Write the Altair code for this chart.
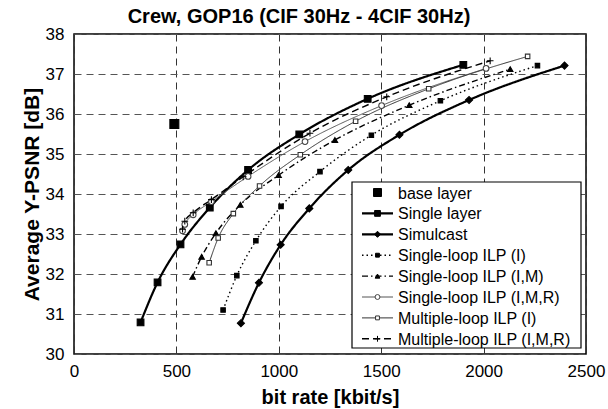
import altair as alt
import pandas as pd

# ---------------- data ----------------
names = [
    "base layer",
    "Single layer",
    "Simulcast",
    "Single-loop ILP (I)",
    "Single-loop ILP (I,M)",
    "Single-loop ILP (I,M,R)",
    "Multiple-loop ILP (I)",
    "Multiple-loop ILP (I,M,R)",
]

base_x = [490]
base_y = [35.75]
single_x = [325, 408, 520, 663, 850, 1100, 1434, 1901]
single_y = [30.79, 31.79, 32.74, 33.66, 34.60, 35.49, 36.38, 37.23]
simul_x = [815, 903, 1009, 1149, 1339, 1589, 1929, 2395]
simul_y = [30.77, 31.78, 32.73, 33.64, 34.60, 35.48, 36.35, 37.21]
sl_i_x = [728, 795, 888, 1011, 1201, 1452, 1789, 2263]
sl_i_y = [31.10, 31.96, 32.83, 33.69, 34.56, 35.47, 36.33, 37.21]
sl_im_x = [579, 623, 693, 812, 999, 1274, 1637, 2130]
sl_im_y = [31.93, 32.43, 33.02, 33.73, 34.47, 35.35, 36.22, 37.12]
sl_imr_x = [530, 541, 582, 671, 850, 1128, 1502, 2012]
sl_imr_y = [33.08, 33.24, 33.48, 33.81, 34.44, 35.31, 36.21, 37.14]
ml_i_x = [660, 704, 778, 906, 1105, 1375, 1732, 2215]
ml_i_y = [32.28, 32.90, 33.51, 34.20, 34.98, 35.82, 36.63, 37.44]
ml_imr_x = [530, 541, 582, 671, 826, 1152, 1527, 2032]
ml_imr_y = [33.12, 33.32, 33.53, 33.86, 34.43, 35.52, 36.43, 37.33]

xs = [base_x, single_x, simul_x, sl_i_x, sl_im_x, sl_imr_x, ml_i_x, ml_imr_x]
ys = [base_y, single_y, simul_y, sl_i_y, sl_im_y, sl_imr_y, ml_i_y, ml_imr_y]

x_ticks = [0, 500, 1000, 1500, 2000, 2500]
y_ticks = [30, 31, 32, 33, 34, 35, 36, 37, 38]

# ---------------- styles ----------------
CROSS = "M-1,0L1,0M0,-1L0,1"
styles = [
    dict(line=False, shape="square", size=80, fill="black", stroke="black", lw=0, dash=[], lc="black"),
    dict(line=True, shape="square", size=45, fill="black", stroke="black", lw=2.2, dash=[], lc="black"),
    dict(line=True, shape="diamond", size=50, fill="black", stroke="black", lw=2.2, dash=[], lc="black"),
    dict(line=True, shape="square", size=20, fill="black", stroke="black", lw=1.4, dash=[1.5, 3], lc="black"),
    dict(line=True, shape="triangle-up", size=30, fill="black", stroke="black", lw=1.4, dash=[6, 3, 1.5, 3], lc="black"),
    dict(line=True, shape="circle", size=32, fill="white", stroke="#444", lw=1.0, dash=[], lc="#555"),
    dict(line=True, shape="square", size=20, fill="white", stroke="#333", lw=1.0, dash=[], lc="#333"),
    dict(line=True, shape=CROSS, size=45, fill="none", stroke="black", lw=1.4, dash=[7, 4], lc="black"),
]

FONT = "Liberation Sans"
OX, OY = 74, 34  # plot origin on the page (padding)

xscale = alt.Scale(domain=[0, 2500], nice=False, zero=False)
yscale = alt.Scale(domain=[30, 38], nice=False, zero=False)

x_enc = alt.X(
    "x:Q", scale=xscale,
    axis=alt.Axis(values=x_ticks, title="bit rate [kbit/s]", format="d"),
)
y_enc = alt.Y(
    "y:Q", scale=yscale,
    axis=alt.Axis(values=y_ticks, title="Average Y-PSNR [dB]", format="d"),
)

layers = []
for name, sx, sy, st in zip(names, xs, ys, styles):
    df = pd.DataFrame({"x": sx, "y": sy, "series": name})
    if st["line"]:
        layers.append(
            alt.Chart(df).mark_line(
                color=st["lc"], strokeWidth=st["lw"], strokeDash=st["dash"] if st["dash"] else [1, 0],
                interpolate="monotone",
            ).encode(x=x_enc, y=y_enc, order="x:Q")
        )
for name, sx, sy, st in zip(names, xs, ys, styles):
    df = pd.DataFrame({"x": sx, "y": sy, "series": name})
    fill_kw = {"fill": st["fill"], "fillOpacity": 1} if st["fill"] != "none" else {"fillOpacity": 0}
    layers.append(
        alt.Chart(df).mark_point(
            shape=st["shape"], size=st["size"], stroke=st["stroke"], strokeWidth=1.1,
            opacity=1, **fill_kw,
        ).encode(x=x_enc, y=y_enc)
    )

# ---------------- legend (drawn inside the plot, lower right) ----------------
one = alt.Data(values=[{"a": 1}])
LX0, LX1, LY0, LY1 = 352 - OX, 581 - OX, 182 - OY, 348 - OY
layers.append(
    alt.Chart(one).mark_rect(fill="white", stroke="black", strokeWidth=1.2).encode(
        x=alt.value(LX0), x2=alt.value(LX1), y=alt.value(LY0), y2=alt.value(LY1)
    )
)
row0, step = 192.5 - OY, 20.9
for i, (name, st) in enumerate(zip(names, styles)):
    yy = row0 + i * step
    if st["line"]:
        layers.append(
            alt.Chart(one).mark_rule(
                color=st["lc"], strokeWidth=st["lw"], strokeDash=st["dash"] if st["dash"] else [1, 0],
            ).encode(x=alt.value(362 - OX), x2=alt.value(393 - OX), y=alt.value(yy))
        )
    fill_kw = {"fill": st["fill"], "fillOpacity": 1} if st["fill"] != "none" else {"fillOpacity": 0}
    layers.append(
        alt.Chart(one).mark_point(
            shape=st["shape"], size=st["size"] * (0.8 if i == 0 else 0.75), stroke=st["stroke"],
            strokeWidth=1.0, opacity=1, **fill_kw,
        ).encode(x=alt.value(377.5 - OX), y=alt.value(yy))
    )
    layers.append(
        alt.Chart(one).mark_text(
            text=name, align="left", baseline="middle", font=FONT, fontSize=16, color="black",
        ).encode(x=alt.value(398 - OX), y=alt.value(yy + 1))
    )

chart = alt.layer(*layers).properties(
    width=512,
    height=320,
    autosize=alt.AutoSizeParams(type="none"),
    padding={"left": OX, "top": OY, "right": 22, "bottom": 55},
    background="white",
    title=alt.Title(
        "Crew, GOP16 (CIF 30Hz - 4CIF 30Hz)", font=FONT, fontSize=20, fontWeight="bold",
        color="black", anchor="middle", dx=-31, dy=25, offset=7, baseline="alphabetic",
    ),
).configure_view(
    stroke="black", strokeWidth=1.5
).configure_axis(
    labelFont=FONT, labelFontSize=17, labelColor="black",
    titleFont=FONT, titleFontSize=20, titleFontWeight="bold", titleColor="black",
    grid=True, gridColor="#333", gridDash=[7, 5], gridWidth=1, gridOpacity=1,
    domain=False, ticks=False,
).configure_axisX(
    labelPadding=9, titlePadding=8, labelFlush=False,
).configure_axisY(
    labelPadding=10, titlePadding=3, titleFontSize=21, labelFlush=False,
    gridColor="#555",
)

chart.save("out.html", embed_options={"renderer": "svg", "actions": False})
